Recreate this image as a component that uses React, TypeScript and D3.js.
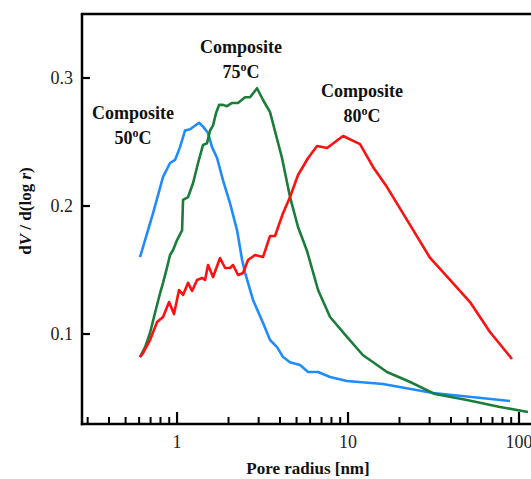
import React from "react";
import * as d3 from "d3";

const blueR = [0.607, 0.724, 0.828, 0.91, 0.973, 1.041, 1.114, 1.191, 1.345, 1.419, 1.518, 1.602, 1.714, 1.857, 2.042, 2.244, 2.4, 2.498, 2.781, 3.184, 3.498, 3.845, 4.17, 4.58, 5.24, 5.84, 6.68, 7.85, 9.86, 16.0, 31.4, 88.6];
const blueV = [0.16, 0.1945, 0.2227, 0.2336, 0.236, 0.246, 0.259, 0.26, 0.265, 0.262, 0.257, 0.246, 0.2375, 0.22, 0.202, 0.181, 0.158, 0.148, 0.1266, 0.1086, 0.0953, 0.0898, 0.082, 0.078, 0.0758, 0.0703, 0.0703, 0.0664, 0.0633, 0.0609, 0.0539, 0.0477];

const greenR = [0.607, 0.65, 0.695, 0.743, 0.796, 0.828, 0.874, 0.91, 0.948, 1.0, 1.07, 1.084, 1.16, 1.241, 1.327, 1.419, 1.497, 1.56, 1.624, 1.691, 1.761, 1.857, 1.96, 2.098, 2.273, 2.498, 2.672, 2.937, 3.184, 3.498, 4.11, 4.58, 5.1, 5.76, 6.68, 7.85, 9.86, 12.2, 16.9, 23.1, 32.3, 49.6, 77.4, 112.9];
const greenV = [0.082, 0.0898, 0.1008, 0.1164, 0.132, 0.14, 0.152, 0.1617, 0.1656, 0.1734, 0.181, 0.2047, 0.207, 0.218, 0.2336, 0.2477, 0.249, 0.259, 0.263, 0.2727, 0.279, 0.279, 0.278, 0.2805, 0.2805, 0.285, 0.285, 0.292, 0.2828, 0.2734, 0.2375, 0.207, 0.1836, 0.1648, 0.1344, 0.1133, 0.0977, 0.0836, 0.0703, 0.0625, 0.0531, 0.0484, 0.043, 0.0391];

const redR = [0.607, 0.633, 0.695, 0.764, 0.828, 0.898, 0.96, 1.027, 1.084, 1.16, 1.224, 1.309, 1.4, 1.458, 1.518, 1.624, 1.784, 1.909, 2.042, 2.125, 2.273, 2.432, 2.601, 2.858, 3.184, 3.498, 3.74, 4.17, 4.58, 5.1, 5.84, 6.59, 7.54, 9.35, 11.75, 14.0, 16.9, 24.0, 30.2, 39.5, 51.7, 67.6, 91.0];
const redV = [0.082, 0.0852, 0.0953, 0.1094, 0.1133, 0.125, 0.1156, 0.1344, 0.1305, 0.14, 0.1336, 0.1422, 0.1438, 0.1422, 0.1539, 0.1445, 0.1594, 0.1516, 0.1516, 0.1539, 0.1461, 0.1477, 0.1578, 0.1617, 0.1602, 0.1766, 0.1766, 0.1945, 0.207, 0.2242, 0.2375, 0.2469, 0.2453, 0.2547, 0.2484, 0.2305, 0.2148, 0.1813, 0.1594, 0.1422, 0.125, 0.1016, 0.0805];

const yTicks = [0.1, 0.2, 0.3];
const yTickLabels = ["0.1", "0.2", "0.3"];
const xMajor = [1, 10, 100];
const xMajorLabels = ["1", "10", "100"];
const xMinor = [0.3, 0.4, 0.5, 0.6, 0.7, 0.8, 0.9, 2, 3, 4, 5, 6, 7, 8, 9, 20, 30, 40, 50, 60, 70, 80, 90];

const seriesColors = ["#1e8cff", "#1a7d3a", "#ff1010"];

const W = 531;
const H = 479;

export default function App() {
  const x = d3.scaleLog().domain([0.278, 100]).range([82, 519]);
  const y = d3.scaleLinear().domain([0.0297, 0.35]).range([424, 14]);
  const line = d3
    .line<[number, number]>()
    .x((d) => x(d[0]))
    .y((d) => y(d[1]));
  const series = [
    { r: blueR, v: blueV },
    { r: greenR, v: greenV },
    { r: redR, v: redV },
  ];
  const serif = "Liberation Serif";
  const x0 = 82;
  const yBottom = 424;
  const yTop = 14;

  const label = (cx: number, y1: number, temp: string) => (
    <text
      x={cx}
      y={y1}
      textAnchor="middle"
      fontFamily={serif}
      fontWeight="bold"
      fontSize={18}
      fill="#111"
    >
      <tspan x={cx} y={y1}>Composite</tspan>
      <tspan x={cx} y={y1 + 25}>
        {temp}
        <tspan fontSize={12} dy={-7}>o</tspan>
        <tspan dy={7}>C</tspan>
      </tspan>
    </text>
  );

  return (
    <svg
      width={W}
      height={H}
      style={{ position: "absolute", left: 0, top: 0, background: "#fff" }}
    >
      <rect x={0} y={0} width={W} height={H} fill="#fff" />
      {series.map((s, i) => (
        <path
          key={i}
          d={line(s.r.map((r, j) => [r, s.v[j]] as [number, number])) || ""}
          fill="none"
          stroke={seriesColors[i]}
          strokeWidth={2.6}
          strokeLinejoin="round"
        />
      ))}
      <line x1={x0} y1={yTop} x2={x0} y2={yBottom + 1.2} stroke="#000" strokeWidth={2.5} />
      <line x1={x0 - 1.2} y1={yBottom} x2={W} y2={yBottom} stroke="#000" strokeWidth={2.5} />
      <line x1={x0 - 1.2} y1={yTop} x2={W} y2={yTop} stroke="#000" strokeWidth={2.5} />
      {yTicks.map((t, i) => (
        <g key={"yt" + i}>
          <line x1={x0} x2={x0 + 8} y1={y(t)} y2={y(t)} stroke="#000" strokeWidth={2.2} />
          <text
            x={73}
            y={y(t) + 6}
            textAnchor="end"
            fontFamily={serif}
            fontSize={18}
            fill="#222"
          >
            {yTickLabels[i]}
          </text>
        </g>
      ))}
      {xMinor.map((t, i) => (
        <line
          key={"xm" + i}
          x1={x(t)}
          x2={x(t)}
          y1={yBottom}
          y2={yBottom - 7}
          stroke="#000"
          strokeWidth={2}
        />
      ))}
      {xMajor.map((t, i) => (
        <g key={"xM" + i}>
          <line x1={x(t)} x2={x(t)} y1={yBottom} y2={yBottom - 12} stroke="#000" strokeWidth={2.2} />
          <text
            x={x(t)}
            y={448}
            textAnchor="middle"
            fontFamily={serif}
            fontSize={18}
            fill="#222"
          >
            {xMajorLabels[i]}
          </text>
        </g>
      ))}
      <text
        x={308}
        y={474}
        textAnchor="middle"
        fontFamily={serif}
        fontWeight="bold"
        fontSize={17}
        fill="#111"
      >
        Pore radius [nm]
      </text>
      <text
        transform="translate(31,211) rotate(-90)"
        textAnchor="middle"
        fontFamily={serif}
        fontWeight="bold"
        fontSize={17}
        fill="#111"
      >
        d<tspan fontStyle="italic">V</tspan> / d(log <tspan fontStyle="italic">r</tspan>)
      </text>
      {label(133, 119, "50")}
      {label(241, 53, "75")}
      {label(362, 97, "80")}
    </svg>
  );
}
